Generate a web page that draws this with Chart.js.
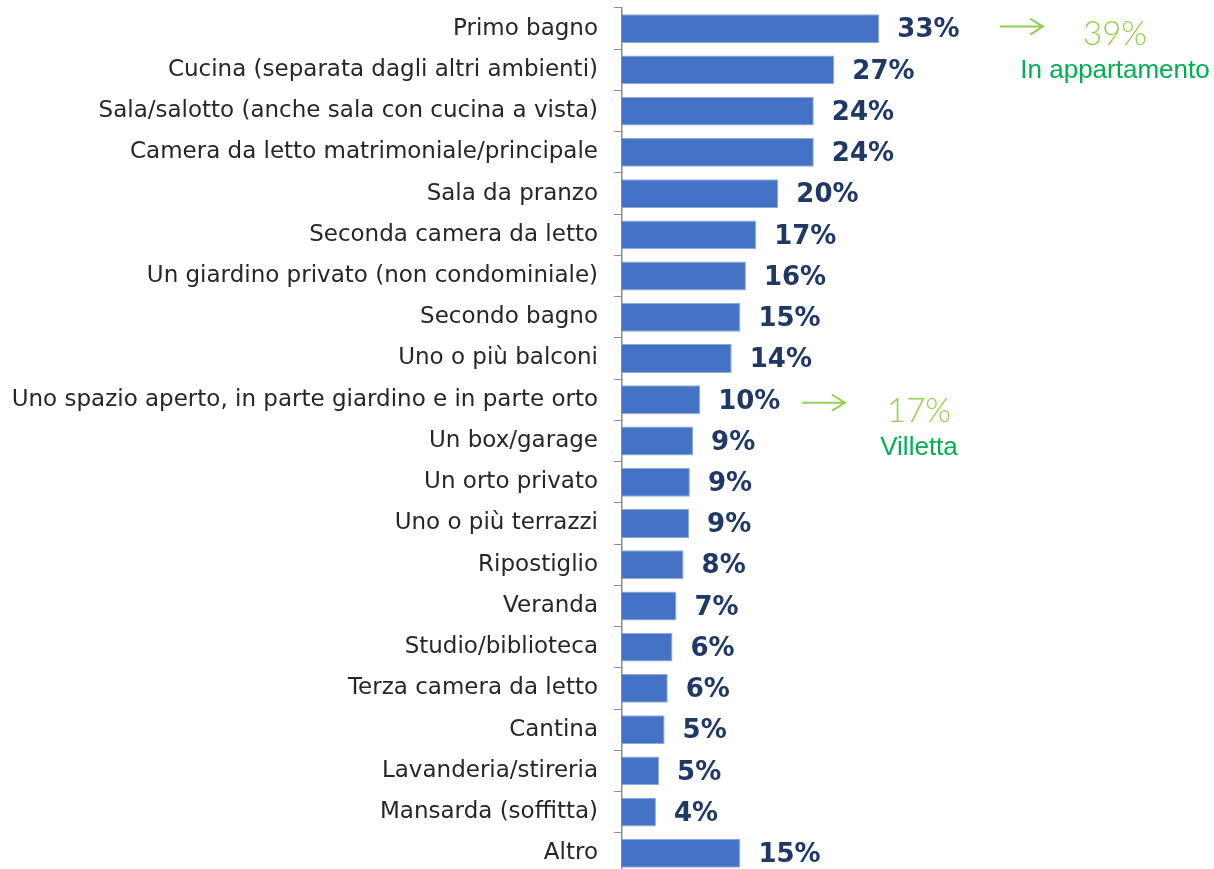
<!DOCTYPE html>
<html>
<head>
<meta charset="utf-8">
<script src="https://cdn.jsdelivr.net/npm/chart.js@4.4.1/dist/chart.umd.min.js"></script>
<style>
  html, body { margin: 0; padding: 0; background: #fff; overflow: hidden; }
  #wrap { width: 1214px; height: 874px; }
</style>
</head>
<body>
<div id="wrap"><canvas id="rooms" width="1214" height="874"></canvas></div>
<script>
const rooms = [
    "Primo bagno",
    "Cucina (separata dagli altri ambienti)",
    "Sala/salotto (anche sala con cucina a vista)",
    "Camera da letto matrimoniale/principale",
    "Sala da pranzo",
    "Seconda camera da letto",
    "Un giardino privato (non condominiale)",
    "Secondo bagno",
    "Uno o più balconi",
    "Uno spazio aperto, in parte giardino e in parte orto",
    "Un box/garage",
    "Un orto privato",
    "Uno o più terrazzi",
    "Ripostiglio",
    "Veranda",
    "Studio/biblioteca",
    "Terza camera da letto",
    "Cantina",
    "Lavanderia/stireria",
    "Mansarda (soffitta)",
    "Altro"
]
const shares = [32.6, 26.9, 24.3, 24.3, 19.8, 17.0, 15.7, 15.0, 13.9, 9.9, 9.0, 8.6, 8.5, 7.8, 6.9, 6.4, 5.8, 5.4, 4.7, 4.3, 15.0]

// green side notes
const calloutRows = [0, 9]
const calloutValues = ["39%", "17%"]
const calloutCaptions = ["In appartamento", "Villetta"]

const xMax = 75

/* ---- drawing helpers ---- */
const calloutStyle = [
    { arrowX: 1000, arrowDy: -2, textX: 1115, valueDy: 16, captionDy: 49 },
    { arrowX: 802,  arrowDy: 3,  textX: 919,  valueDy: 22, captionDy: 55 }
]

const barLabels = {
    id: "barLabels",
    afterDatasetsDraw(chart) {
        const ctx = chart.ctx
        const meta = chart.getDatasetMeta(0)
        ctx.save()
        ctx.font = "bold 26px 'DejaVu Sans'"
        ctx.fillStyle = "#203864"
        ctx.textAlign = "left"
        ctx.textBaseline = "middle"
        meta.data.forEach((bar, i) => {
            ctx.fillText(Math.round(shares[i]) + "%", bar.x + 18, bar.y + 2)
        })

        const yScale = chart.scales.y
        calloutRows.forEach((row, i) => {
            const s = calloutStyle[i]
            const y = yScale.getPixelForValue(row)
            const ay = y + s.arrowDy
            ctx.strokeStyle = "#92D050"
            ctx.lineWidth = 2
            ctx.beginPath()
            ctx.moveTo(s.arrowX, ay)
            ctx.lineTo(s.arrowX + 43, ay)
            ctx.moveTo(s.arrowX + 30, ay - 8)
            ctx.lineTo(s.arrowX + 43, ay)
            ctx.lineTo(s.arrowX + 30, ay + 8)
            ctx.stroke()

            ctx.textAlign = "center"
            ctx.textBaseline = "alphabetic"
            ctx.fillStyle = "#92D050"
            ctx.font = "300 33px Lato"
            ctx.fillText(calloutValues[i], s.textX, y + s.valueDy)
            ctx.fillStyle = "#00B050"
            ctx.font = "26px 'Liberation Sans'"
            ctx.fillText(calloutCaptions[i], s.textX, y + s.captionDy)
        })
        ctx.restore()
    }
}

const rankChart = new Chart(document.querySelector("#rooms"), {
    type: "bar",
    data: {
        labels: rooms,
        datasets: [{
            data: shares,
            backgroundColor: "#4472C4",
            borderColor: "#8EA9DB",
            borderWidth: 1,
            barPercentage: 0.7,
            categoryPercentage: 1
        }]
    },
    options: {
        indexAxis: "y",
        responsive: false,
        animation: false,
        devicePixelRatio: 1,
        layout: { padding: { top: 8, right: 0, bottom: 0, left: 0 } },
        plugins: {
            legend: { display: false },
            tooltip: { enabled: false }
        },
        scales: {
            x: {
                display: false,
                min: 0,
                max: xMax
            },
            y: {
                afterFit(scale) {
                    scale.width = 622
                    scale.paddingTop = 0
                    scale.paddingBottom = 0
                },
                grid: {
                    display: true,
                    drawOnChartArea: false,
                    drawTicks: true,
                    tickLength: 8,
                    color: "#8c8c8c",
                    offset: true
                },
                border: { display: true, color: "#8c8c8c", width: 1.5 },
                ticks: {
                    padding: 16,
                    color: "#262626",
                    font: { family: "'DejaVu Sans'", size: 23 }
                }
            }
        }
    },
    plugins: [barLabels]
})
</script>
</body>
</html>
